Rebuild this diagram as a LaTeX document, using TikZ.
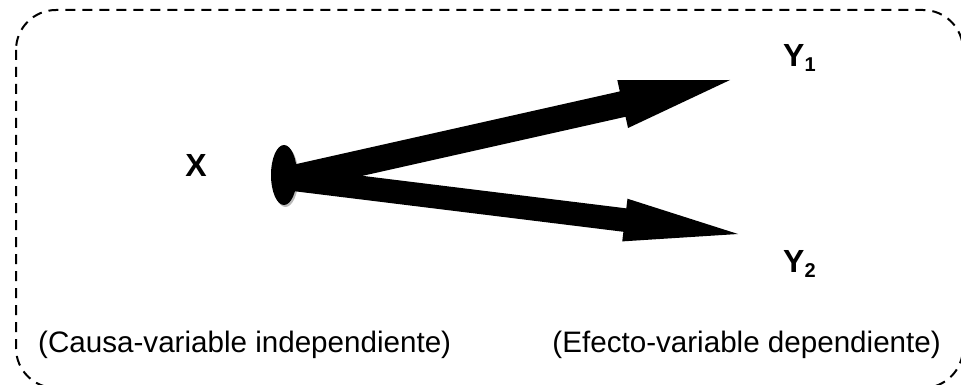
\documentclass[tikz,border=0pt]{standalone}
\usepackage{fontspec}
\setmainfont{Liberation Sans}
\usetikzlibrary{calc,shapes.geometric}
\begin{document}
\begin{tikzpicture}[x=1pt,y=-1pt,
  frame/.style={draw=black,line width=2pt,dash pattern=on 10pt off 7pt,rounded corners=40pt},
  varlabel/.style={font=\fontsize{32}{32}\selectfont\bfseries,inner sep=0pt},
  subs/.style={font=\fontsize{20}{20}\selectfont\bfseries},
  note/.style={font=\fontsize{29.6}{32}\selectfont,inner sep=0pt},
  arrowfill/.style={fill=black},
  dot/.style={ellipse,minimum width=26pt,minimum height=60pt,inner sep=0pt}
]
\useasboundingbox (0,0) rectangle (961,385);
\draw[frame] (16,10) rectangle (963,388);
% cause
\node[dot,fill=gray!55] (xs) at (285.5,177) {};
\coordinate (src) at (290,178.8);
\coordinate (t1) at (730,80);
\coordinate (t2) at (738,234);
\coordinate (hb1) at ($(t1)!110pt!(src)$);
\coordinate (hb2) at ($(t2)!114pt!(src)$);
\fill[arrowfill] ($(src)!13pt!90:(t1)$) -- ($(hb1)!13pt!90:(t1)$) -- ($(hb1)!24.5pt!90:(t1)$) -- (t1)
  -- ($(hb1)!24.5pt!-90:(t1)$) -- ($(hb1)!13pt!-90:(t1)$) -- ($(src)!13pt!-90:(t1)$) -- cycle;
\fill[arrowfill] ($(src)!11.8pt!90:(t2)$) -- ($(hb2)!11.8pt!90:(t2)$) -- ($(hb2)!21.5pt!90:(t2)$) -- (t2)
  -- ($(hb2)!21.5pt!-90:(t2)$) -- ($(hb2)!11.8pt!-90:(t2)$) -- ($(src)!11.8pt!-90:(t2)$) -- cycle;
\node[dot,fill=black] (x0) at (284,175) {};
\node[varlabel,anchor=base] (X) at (196,176) {X};
\node[varlabel,anchor=base west] (Y1) at (783,67) {Y\raisebox{-5pt}{\fontsize{20}{20}\selectfont 1}};
\node[varlabel,anchor=base west] (Y2) at (783,272) {Y\raisebox{-5pt}{\fontsize{20}{20}\selectfont 2}};
\node[note,anchor=base west] (c) at (38,352) {(Causa-variable independiente)};
\node[note,anchor=base east] (e) at (941,352) {(Efecto-variable dependiente)};
\end{tikzpicture}
\end{document}
